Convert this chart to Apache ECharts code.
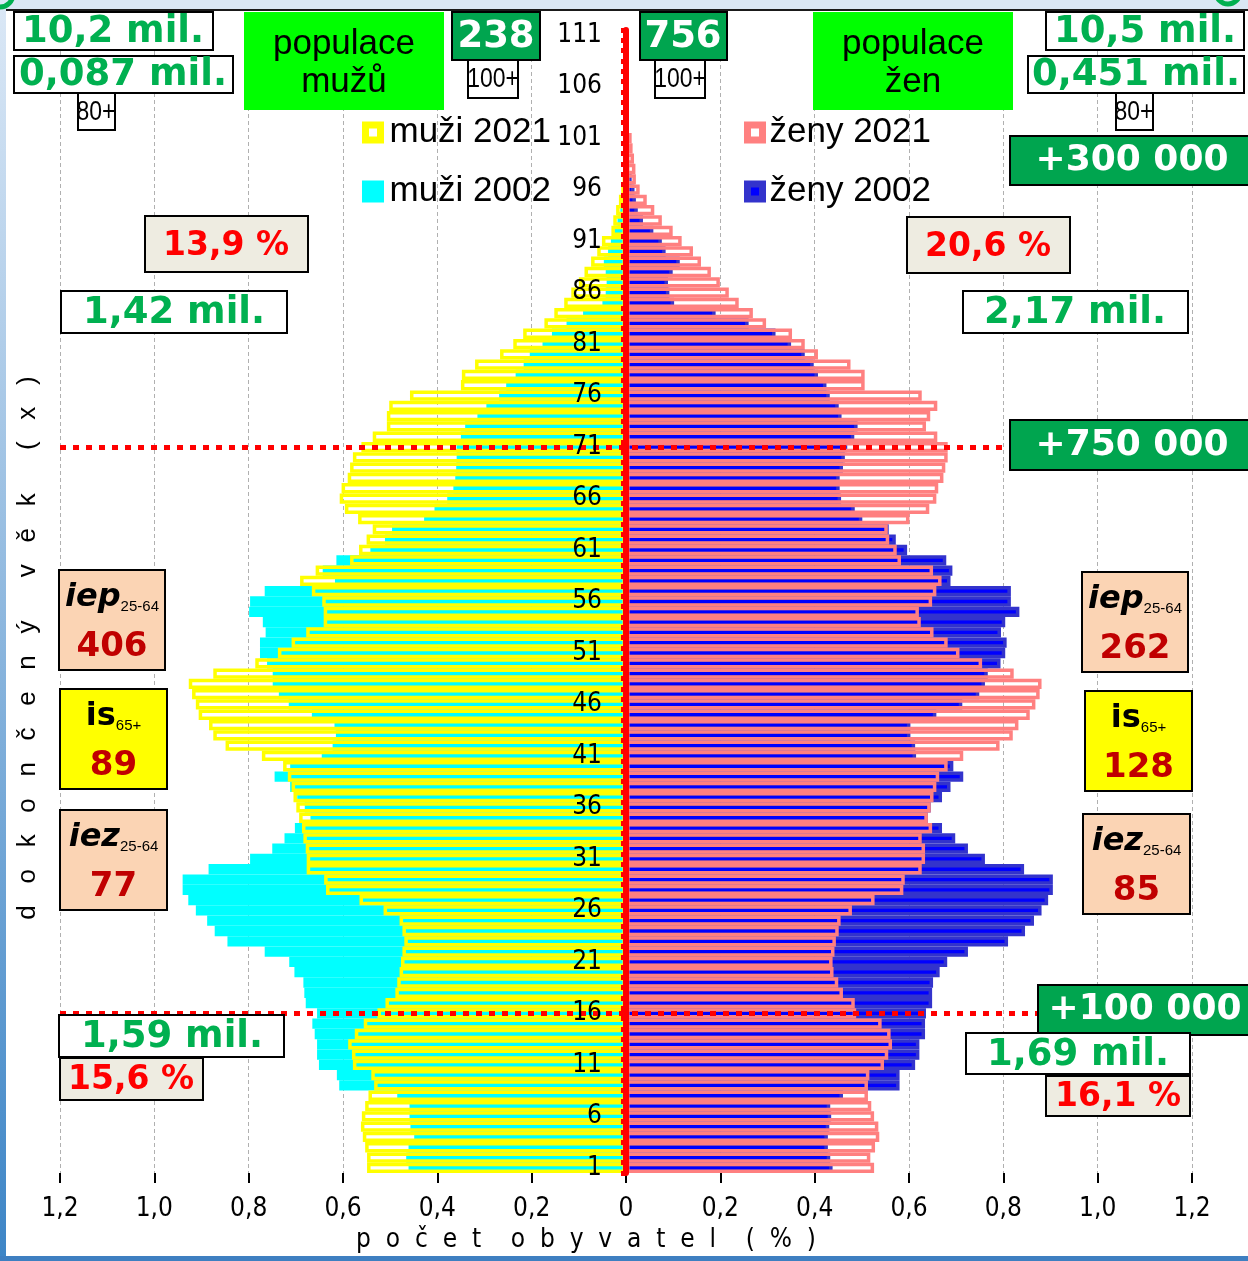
<!DOCTYPE html>
<html><head><meta charset="utf-8">
<script src="https://cdn.jsdelivr.net/npm/echarts@6/dist/echarts.min.js"></script>
<style>html,body{margin:0;padding:0;background:#fff}#c{width:1248px;height:1261px}</style>
</head><body><div id="c"></div>
<script>
// ages 1..111 (category labels)
const ages = Array.from({length: 111}, (_, i) => String(i + 1));
const xTicks = ['1,2','1,0','0,8','0,6','0,4','0,2','0','0,2','0,4','0,6','0,8','1,0','1,2'];

// share of population (%) by completed age, ages 1..111
const men2021 = [
 0.549,0.549,0.553,0.558,0.562,0.560,0.553,0.546,0.534,0.540,
 0.579,0.581,0.589,0.575,0.556,0.527,0.510,0.489,0.485,0.480,
 0.477,0.474,0.470,0.474,0.480,0.514,0.565,0.636,0.640,0.677,
 0.677,0.679,0.684,0.687,0.693,0.699,0.705,0.709,0.717,0.727,
 0.772,0.849,0.875,0.884,0.906,0.912,0.920,0.927,0.875,0.786,
 0.738,0.709,0.678,0.641,0.641,0.644,0.666,0.691,0.658,0.585,
 0.566,0.550,0.537,0.568,0.596,0.607,0.603,0.590,0.585,0.579,
 0.561,0.537,0.507,0.507,0.502,0.458,0.350,0.348,0.320,0.267,
 0.239,0.218,0.173,0.152,0.131,0.116,0.100,0.088,0.074,0.061,
 0.051,0.031,0.027,0.021,0.015,0.010,0.007,0.005,null,null,
 null,null,null,null,null,null,null,null,null,null,null];
const men2002 = [
 0.461,0.466,0.461,0.449,0.457,0.459,0.459,0.485,0.608,0.613,
 0.651,0.655,0.655,0.660,0.665,0.655,0.679,0.682,0.684,0.703,
 0.714,0.766,0.845,0.872,0.888,0.912,0.928,0.940,0.940,0.885,
 0.797,0.750,0.724,0.702,0.669,0.681,0.697,0.712,0.745,0.712,
 0.645,0.622,0.615,0.618,0.666,0.715,0.736,0.749,0.749,0.761,
 0.776,0.776,0.764,0.770,0.799,0.797,0.766,0.617,0.643,0.614,
 0.542,0.511,0.496,0.428,0.406,0.379,0.366,0.362,0.360,0.359,
 0.359,0.350,0.341,0.315,0.296,0.269,0.254,0.234,0.217,0.204,
 0.177,0.157,0.126,0.091,0.050,0.043,0.041,0.043,0.047,0.038,
 0.032,0.025,0.018,0.012,0.008,0.005,0.003,0.002,null,null,
 null,null,null,null,null,null,null,null,null,null,null];
const women2021 = [
 0.526,0.518,0.528,0.537,0.535,0.526,0.520,0.513,0.513,0.516,
 0.547,0.556,0.564,0.561,0.542,0.488,0.485,0.460,0.450,0.440,
 0.438,0.442,0.445,0.451,0.455,0.479,0.527,0.588,0.591,0.627,
 0.634,0.634,0.627,0.649,0.640,0.646,0.652,0.658,0.664,0.682,
 0.715,0.792,0.820,0.832,0.856,0.868,0.877,0.881,0.822,0.755,
 0.707,0.682,0.652,0.625,0.621,0.649,0.658,0.669,0.651,0.583,
 0.574,0.558,0.555,0.601,0.643,0.658,0.662,0.673,0.677,0.682,
 0.682,0.660,0.636,0.645,0.660,0.627,0.506,0.506,0.476,0.407,
 0.379,0.352,0.297,0.269,0.239,0.218,0.199,0.180,0.159,0.142,
 0.118,0.099,0.076,0.060,0.044,0.029,0.021,0.020,0.017,0.014,
 0.012,null,null,null,null,null,null,null,null,null,null];
const women2002 = [
 0.438,0.433,0.428,0.428,0.431,0.435,0.433,0.460,0.580,0.580,
 0.613,0.622,0.622,0.634,0.634,0.636,0.649,0.649,0.651,0.665,
 0.681,0.725,0.810,0.846,0.865,0.881,0.895,0.905,0.905,0.844,
 0.761,0.725,0.698,0.670,0.640,0.646,0.670,0.688,0.715,0.694,
 0.615,0.613,0.603,0.603,0.658,0.713,0.749,0.761,0.767,0.794,
 0.804,0.807,0.795,0.804,0.834,0.816,0.816,0.688,0.692,0.679,
 0.596,0.572,0.557,0.501,0.485,0.456,0.453,0.453,0.460,0.464,
 0.469,0.484,0.491,0.457,0.451,0.432,0.425,0.407,0.398,0.379,
 0.350,0.317,0.260,0.190,0.102,0.092,0.089,0.099,0.114,0.084,
 0.076,0.058,0.036,0.025,0.021,0.018,0.012,null,null,null,
 null,null,null,null,null,null,null,null,null,null,null];
const markAges = ['71', '16'];

const NARROW = '"DejaVu Sans Condensed", "Liberation Sans Narrow", sans-serif';
const REG = '"Liberation Sans", Arial, sans-serif';
const BOLD = '"DejaVu Sans", Verdana, sans-serif';
const GREEN = '#00b050', DKGREEN = '#00a54f', PEACH = '#fbd4b4', BEIGE = '#eeece1', DKRED = '#c00000';

function rect(x, y, w, h, fill, stroke) {
  return {type: 'rect', z: 100, shape: {x: x, y: y, width: w, height: h},
    style: {fill: fill, stroke: stroke || null, lineWidth: stroke ? 2 : 0}};
}
function txt(x, y, text, size, color, extra) {
  return {type: 'text', z: 101, x: x, y: y,
    style: Object.assign({text: text, fill: color, fontSize: size, fontFamily: BOLD, fontWeight: 'bold',
      align: 'center', verticalAlign: 'middle'}, extra || {})};
}
function reg(x, y, text, size) {
  return txt(x, y, text, size, '#000', {fontFamily: REG, fontWeight: 'normal'});
}
function nar(x, y, text, size) {
  const t = txt(x, y, text, size, '#000', {fontFamily: REG, fontWeight: 'normal'});
  t.scaleX = 0.82;
  return t;
}
function idx(x, y, w, h, fill, main, sub, italic, num) {
  return [
    rect(x, y, w, h, fill, '#000'),
    {type: 'text', z: 101, x: x + w / 2, y: y + 28, style: {
      text: '{m|' + main + '}{s|' + sub + '}', align: 'center', verticalAlign: 'middle',
      rich: {
        m: {fontSize: 32, fontFamily: BOLD, fontWeight: 'bold', fontStyle: italic ? 'italic' : 'normal', fill: '#000'},
        s: {fontSize: 15, fontFamily: REG, fill: '#000', verticalAlign: 'bottom'}
      }}},
    txt(x + w / 2, y + 77, num, 34, DKRED)
  ];
}

const elements = [].concat(
  [
    {type: 'rect', z: 100, shape: {x: 0, y: 0, width: 1248, height: 9}, style: {fill: '#dae7f4'}},
    {type: 'rect', z: 100, shape: {x: 6, y: 9, width: 1242, height: 2}, style: {fill: '#1a1a1a'}},
    {type: 'rect', z: 100, shape: {x: 0, y: 0, width: 6, height: 1261},
      style: {fill: {type: 'linear', x: 0, y: 0, x2: 0, y2: 1, colorStops: [{offset: 0, color: '#dbe8f6'}, {offset: 1, color: '#3d85c6'}]}}},
    {type: 'rect', z: 100, shape: {x: 0, y: 1256, width: 1248, height: 5}, style: {fill: '#3e7fc1'}},
    {type: 'circle', z: 100, shape: {cx: 0, cy: -6, r: 13}, style: {fill: 'none', stroke: GREEN, lineWidth: 5}},
    {type: 'circle', z: 100, shape: {cx: 1228, cy: -8, r: 12}, style: {fill: 'none', stroke: GREEN, lineWidth: 5}},

    rect(14, 12, 199, 38, '#fff', '#000'), txt(113, 32, '10,2 mil.', 37, GREEN),
    rect(14, 56, 219, 37, '#fff', '#000'), txt(123, 75, '0,087 mil.', 37, GREEN),
    rect(78, 93, 37, 37, '#fff', '#000'), nar(96, 112, '80+', 28),
    rect(244, 12, 200, 98, '#00ff00'), reg(344, 44, 'populace', 35), reg(344, 82, 'mužů', 35),
    rect(452, 12, 88, 48, DKGREEN, '#000'), txt(496, 37, '238', 37, '#fff'),
    rect(468, 60, 50, 38, '#fff', '#000'), nar(493, 79, '100+', 28),
    rect(640, 12, 87, 48, DKGREEN, '#000'), txt(683, 37, '756', 37, '#fff'),
    rect(655, 60, 50, 38, '#fff', '#000'), nar(680, 79, '100+', 28),
    rect(813, 12, 200, 98, '#00ff00'), reg(913, 44, 'populace', 35), reg(913, 82, 'žen', 35),
    rect(1046, 12, 198, 38, '#fff', '#000'), txt(1145, 32, '10,5 mil.', 37, GREEN),
    rect(1028, 56, 216, 37, '#fff', '#000'), txt(1136, 75, '0,451 mil.', 37, GREEN),
    rect(1116, 93, 37, 37, '#fff', '#000'), nar(1134, 112, '80+', 28),
    rect(1010, 136, 242, 49, DKGREEN, '#000'), txt(1132, 161, '+300 000', 36, '#fff'),
    rect(145, 216, 163, 56, BEIGE, '#000'), txt(226, 246, '13,9 %', 33, '#ff0000'),
    rect(907, 217, 163, 56, BEIGE, '#000'), txt(988, 247, '20,6 %', 33, '#ff0000'),
    rect(61, 291, 226, 42, '#fff', '#000'), txt(174, 313, '1,42 mil.', 37, GREEN),
    rect(963, 291, 225, 42, '#fff', '#000'), txt(1075, 313, '2,17 mil.', 37, GREEN),
    rect(1010, 420, 242, 50, DKGREEN, '#000'), txt(1132, 446, '+750 000', 36, '#fff'),
    rect(1038, 985, 214, 50, DKGREEN, '#000'), txt(1145, 1010, '+100 000', 36, '#fff'),
    rect(59, 1015, 225, 42, '#fff', '#000'), txt(172, 1037, '1,59 mil.', 37, GREEN),
    rect(60, 1058, 143, 42, BEIGE, '#000'), txt(131, 1080, '15,6 %', 33, '#ff0000'),
    rect(966, 1033, 224, 41, '#fff', '#000'), txt(1078, 1055, '1,69 mil.', 37, GREEN),
    rect(1046, 1076, 144, 40, BEIGE, '#000'), txt(1118, 1097, '16,1 %', 33, '#ff0000'),
    {type: 'text', z: 101, x: 28, y: 648, rotation: Math.PI / 2, style: {
      text: 'd   o   k   o   n   č   e   n   ý      v   ě   k      (   x   )',
      fontSize: 26, fontFamily: REG, fill: '#000', align: 'center', verticalAlign: 'middle'}}
  ],
  idx(59, 570, 106, 100, PEACH, 'iep', '25-64', true, '406'),
  idx(60, 689, 107, 100, '#ffff00', 'is', '65+', false, '89'),
  idx(60, 810, 107, 100, PEACH, 'iez', '25-64', true, '77'),
  idx(1082, 572, 106, 100, PEACH, 'iep', '25-64', true, '262'),
  idx(1085, 691, 107, 100, '#ffff00', 'is', '65+', false, '128'),
  idx(1083, 814, 107, 100, PEACH, 'iez', '25-64', true, '85')
);

const neg = a => a.map(v => v == null ? null : -v);
const barBase = {type: 'bar', barGap: '-100%', barCategoryGap: '0%', emphasis: {disabled: true}, silent: true};

const chart = echarts.init(document.getElementById('c'), null, {renderer: 'canvas'});
chart.setOption({
  animation: false,
  backgroundColor: '#fff',
  grid: {left: 60, right: 56, top: 30, bottom: 88, containLabel: false, outerBoundsMode: 'none'},
  legend: [
    {orient: 'vertical', left: 362, top: 115, padding: 0, itemWidth: 15, itemHeight: 15, itemGap: 24,
     selectedMode: false, textStyle: {fontSize: 35, fontFamily: REG, color: '#000', padding: [0, 0, 0, 4]},
     data: [
       {name: 'muži 2021', icon: 'rect', itemStyle: {color: '#fff', borderColor: '#ffff00', borderWidth: 7}},
       {name: 'muži 2002', icon: 'rect', itemStyle: {color: '#00ffff', borderColor: '#00ffff', borderWidth: 7}}
     ]},
    {orient: 'vertical', left: 744, top: 115, padding: 0, itemWidth: 15, itemHeight: 15, itemGap: 24,
     selectedMode: false, textStyle: {fontSize: 35, fontFamily: REG, color: '#000', padding: [0, 0, 0, 2]},
     data: [
       {name: 'ženy 2021', icon: 'rect', itemStyle: {color: '#fff', borderColor: '#ff8080', borderWidth: 7}},
       {name: 'ženy 2002', icon: 'rect', itemStyle: {color: '#0000ff', borderColor: '#3333cc', borderWidth: 7}}
     ]}
  ],
  xAxis: {
    type: 'value', min: -1.2, max: 1.2, interval: 0.2,
    name: 'p  o  č  e  t    o  b  y  v  a  t  e  l    (  %  )',
    nameLocation: 'middle', nameGap: 52,
    nameTextStyle: {fontSize: 26, fontFamily: NARROW, color: '#000', padding: [0, 80, 0, 0]},
    axisLine: {onZero: false, lineStyle: {color: '#000', width: 3}},
    axisTick: {show: true, length: 10, lineStyle: {color: '#000', width: 2}},
    axisLabel: {fontSize: 26, fontFamily: NARROW, color: '#000', margin: 23,
      formatter: v => xTicks[Math.round((v + 1.2) / 0.2)]},
    splitLine: {show: true, lineStyle: {color: '#b0b0b0', width: 1, type: [4, 3]}}
  },
  yAxis: {
    type: 'category', data: ages, z: 10, offset: -566,
    axisLine: {onZero: false, lineStyle: {color: '#ff0000', width: 6}},
    axisTick: {show: true, interval: 0, length: 5, lineStyle: {color: '#ff0000', width: 5}},
    axisLabel: {interval: 4, fontSize: 26, fontFamily: NARROW, color: '#000', margin: 24},
    splitLine: {show: false}
  },
  series: [
    Object.assign({}, barBase, {name: 'muži 2002', data: neg(men2002), itemStyle: {color: '#00ffff'}}),
    Object.assign({}, barBase, {name: 'ženy 2002', data: women2002,
      itemStyle: {color: '#0000ff', borderColor: '#3333cc', borderWidth: 3.5}}),
    Object.assign({}, barBase, {name: 'muži 2021', data: neg(men2021),
      itemStyle: {color: 'rgba(0,0,0,0)', borderColor: '#ffff00', borderWidth: 3.5}}),
    Object.assign({}, barBase, {name: 'ženy 2021', data: women2021,
      itemStyle: {color: 'rgba(0,0,0,0)', borderColor: '#ff8080', borderWidth: 3.5},
      markLine: {silent: true, symbol: 'none', label: {show: false},
        lineStyle: {color: '#ff0000', width: 5, type: [6, 7]},
        data: markAges.map(a => ({yAxis: a}))}})
  ],
  graphic: {elements: elements}
});
</script></body></html>
